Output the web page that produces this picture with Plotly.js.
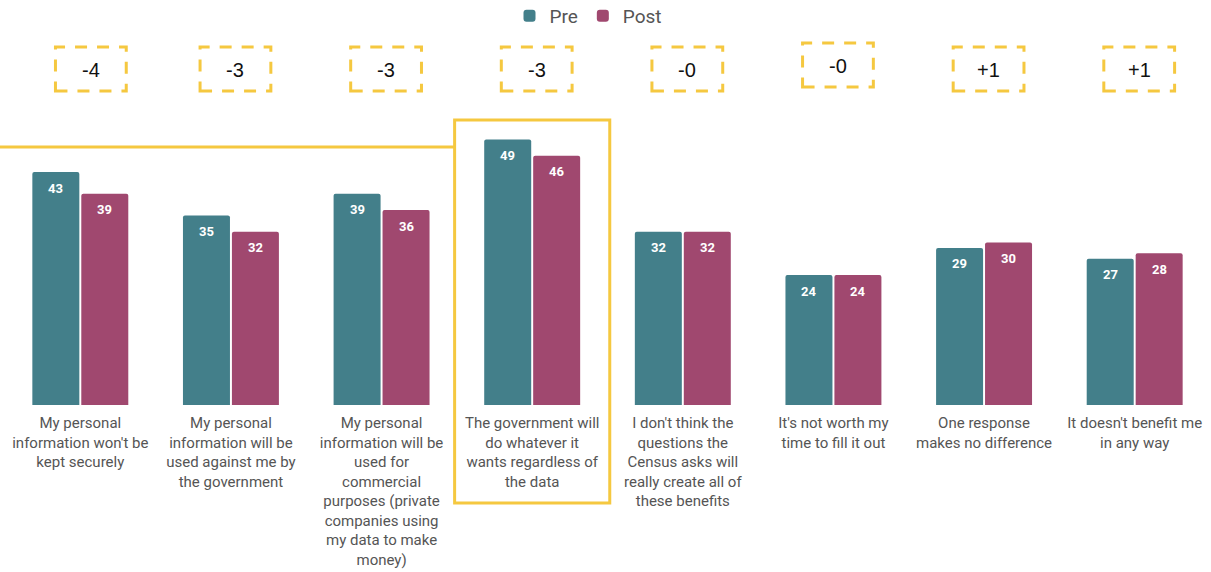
<!DOCTYPE html>
<html>
<head>
<meta charset="utf-8">
<script src="https://cdn.plot.ly/plotly-3.0.1.min.js"></script>
<style>html,body{margin:0;padding:0;background:#fff;}#chart{width:1211px;height:572px;}</style>
</head>
<body>
<div id="chart"></div>
<script>
const categories = [
  "My personal<br>information won't be<br>kept securely",
  "My personal<br>information will be<br>used against me by<br>the government",
  "My personal<br>information will be<br>used for<br>commercial<br>purposes (private<br>companies using<br>my data to make<br>money)",
  "The government will<br>do whatever it<br>wants regardless of<br>the data",
  "I don't think the<br>questions the<br>Census asks will<br>really create all of<br>these benefits",
  "It's not worth my<br>time to fill it out",
  "One response<br>makes no difference",
  "It doesn't benefit me<br>in any way"
];
const preValues = [43, 35, 39, 49, 32, 24, 29, 27];
const postValues = [39, 32, 36, 46, 32, 24, 30, 28];
const diffLabels = ["-4", "-3", "-3", "-3", "-0", "-0", "+1", "+1"];
const highlightIndex = 3;

const W = 1211, H = 572;
const M = {l: 5, r: 1, t: 80, b: 167};
const plotH = H - M.t - M.b;
const py = px => (H - M.b - px) / plotH;   // pixel row -> paper y

const PRE = '#437f8a', POST = '#a0486f', YEL = '#f5c840';
const xs = categories.map((c, i) => i);

const traces = [
  {type: 'bar', name: 'Pre', x: xs, y: preValues, marker: {color: PRE}, hoverinfo: 'none'},
  {type: 'bar', name: 'Post', x: xs, y: postValues, marker: {color: POST}, hoverinfo: 'none'}
];

const annotations = [];
const shapes = [];
xs.forEach((i) => {
  annotations.push({x: i, y: preValues[i], xref: 'x', yref: 'y', xshift: -24.5, yshift: -16,
    xanchor: 'center', yanchor: 'middle',
    text: '<b>' + preValues[i] + '</b>', showarrow: false,
    font: {family: 'Roboto, sans-serif', size: 13, color: '#ffffff'}});
  annotations.push({x: i, y: postValues[i], xref: 'x', yref: 'y', xshift: 24.5, yshift: -16,
    xanchor: 'center', yanchor: 'middle',
    text: '<b>' + postValues[i] + '</b>', showarrow: false,
    font: {family: 'Roboto, sans-serif', size: 13, color: '#ffffff'}});
  const off = i === 5 ? -4 : 0;
  const cx = i + (i === 0 ? 0.07 : 0.03);
  shapes.push({type: 'rect', xref: 'x', yref: 'paper', x0: cx - 0.235, x1: cx + 0.235,
    y0: py(91 + off), y1: py(47 + off),
    line: {color: YEL, width: 3, dash: '12px,10px'}});
  annotations.push({x: cx, y: py(70 + off), xref: 'x', yref: 'paper', text: diffLabels[i],
    xanchor: 'center', yanchor: 'middle',
    showarrow: false, font: {family: 'Liberation Sans, Arial, sans-serif', size: 20, color: '#111'}});
});

shapes.push({type: 'rect', xref: 'x', yref: 'paper', x0: highlightIndex - 0.515, x1: highlightIndex + 0.515,
  y0: py(503), y1: py(120), line: {color: YEL, width: 3}});
shapes.push({type: 'line', xref: 'paper', yref: 'paper', x0: -0.01, x1: (highlightIndex - 0.515 + 0.5) / categories.length,
  y0: py(147), y1: py(147), line: {color: YEL, width: 3}});

const layout = {
  width: W, height: H,
  margin: M,
  paper_bgcolor: '#fff', plot_bgcolor: '#fff',
  barmode: 'group', bargap: 0.35, bargroupgap: 0.04,
  barcornerradius: 2,
  font: {family: 'Roboto, sans-serif', color: '#555'},
  showlegend: true,
  legend: {orientation: 'h', x: 0.5 - 17 / W, xanchor: 'center', xref: 'container', yref: 'container',
    y: 1 - 16 / H, yanchor: 'middle', itemwidth: 30,
    font: {family: 'Roboto, sans-serif', size: 19, color: '#555'}},
  xaxis: {type: 'linear', range: [-0.5, categories.length - 0.5], tickmode: 'array',
    tickvals: xs, ticktext: categories, showgrid: false, zeroline: false, showline: false,
    automargin: false, ticklabelstandoff: 7,
    ticks: '', tickfont: {family: 'Roboto, sans-serif', size: 15, color: '#555'}, fixedrange: true},
  yaxis: {range: [0, 60], visible: false, showgrid: false, zeroline: false, fixedrange: true, automargin: false},
  shapes: shapes,
  annotations: annotations
};

Plotly.newPlot('chart', traces, layout, {displayModeBar: false, staticPlot: true});
</script>
</body>
</html>
